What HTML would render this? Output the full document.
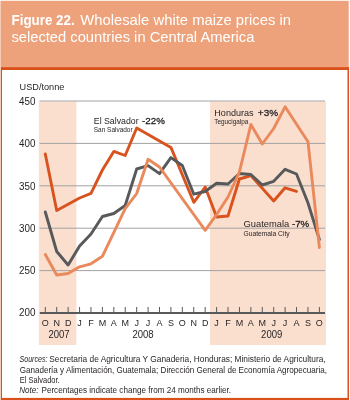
<!DOCTYPE html>
<html><head><meta charset="utf-8"><style>
html,body{margin:0;padding:0;background:#fff;width:350px;height:400px;overflow:hidden}
svg{display:block;will-change:transform}
text{font-family:"Liberation Sans",sans-serif}
</style></head><body>
<svg width="350" height="400" viewBox="0 0 350 400">
<rect x="0" y="0" width="350" height="400" fill="#ffffff"/>
<rect x="0" y="0.8" width="1" height="399.2" fill="#f5ccb5"/>
<rect x="1" y="0.8" width="347.7" height="66.2" fill="#eda27b"/>
<rect x="1" y="67" width="347.7" height="1" fill="#df5f2c"/>
<rect x="1" y="68" width="347.7" height="2" fill="#d9501a"/>
<rect x="1" y="67" width="1" height="333" fill="#d9501a"/>
<rect x="347.5" y="67" width="1.5" height="333" fill="#d9501a"/>
<rect x="1" y="397.9" width="348" height="2.1" fill="#d9501a"/>
<rect x="38.8" y="101.5" width="37.6" height="243.5" fill="#fadfcf"/>
<rect x="210" y="101.5" width="116" height="243.5" fill="#fadfcf"/>
<line x1="39.6" y1="101.00" x2="325" y2="101.00" stroke="#a2a2a2" stroke-width="1"/>
<line x1="39.6" y1="143.40" x2="325" y2="143.40" stroke="#a2a2a2" stroke-width="1"/>
<line x1="39.6" y1="185.80" x2="325" y2="185.80" stroke="#a2a2a2" stroke-width="1"/>
<line x1="39.6" y1="228.20" x2="325" y2="228.20" stroke="#a2a2a2" stroke-width="1"/>
<line x1="39.6" y1="270.60" x2="325" y2="270.60" stroke="#a2a2a2" stroke-width="1"/>
<line x1="39.8" y1="313" x2="325" y2="313" stroke="#58595b" stroke-width="1.8"/>
<line x1="45.30" y1="307" x2="45.30" y2="313" stroke="#58595b" stroke-width="1"/>
<line x1="56.72" y1="307" x2="56.72" y2="313" stroke="#58595b" stroke-width="1"/>
<line x1="68.14" y1="307" x2="68.14" y2="313" stroke="#58595b" stroke-width="1"/>
<line x1="79.56" y1="307" x2="79.56" y2="313" stroke="#58595b" stroke-width="1"/>
<line x1="90.98" y1="307" x2="90.98" y2="313" stroke="#58595b" stroke-width="1"/>
<line x1="102.40" y1="307" x2="102.40" y2="313" stroke="#58595b" stroke-width="1"/>
<line x1="113.82" y1="307" x2="113.82" y2="313" stroke="#58595b" stroke-width="1"/>
<line x1="125.24" y1="307" x2="125.24" y2="313" stroke="#58595b" stroke-width="1"/>
<line x1="136.66" y1="307" x2="136.66" y2="313" stroke="#58595b" stroke-width="1"/>
<line x1="148.08" y1="307" x2="148.08" y2="313" stroke="#58595b" stroke-width="1"/>
<line x1="159.50" y1="307" x2="159.50" y2="313" stroke="#58595b" stroke-width="1"/>
<line x1="170.92" y1="307" x2="170.92" y2="313" stroke="#58595b" stroke-width="1"/>
<line x1="182.34" y1="307" x2="182.34" y2="313" stroke="#58595b" stroke-width="1"/>
<line x1="193.76" y1="307" x2="193.76" y2="313" stroke="#58595b" stroke-width="1"/>
<line x1="205.18" y1="307" x2="205.18" y2="313" stroke="#58595b" stroke-width="1"/>
<line x1="216.60" y1="307" x2="216.60" y2="313" stroke="#58595b" stroke-width="1"/>
<line x1="228.02" y1="307" x2="228.02" y2="313" stroke="#58595b" stroke-width="1"/>
<line x1="239.44" y1="307" x2="239.44" y2="313" stroke="#58595b" stroke-width="1"/>
<line x1="250.86" y1="307" x2="250.86" y2="313" stroke="#58595b" stroke-width="1"/>
<line x1="262.28" y1="307" x2="262.28" y2="313" stroke="#58595b" stroke-width="1"/>
<line x1="273.70" y1="307" x2="273.70" y2="313" stroke="#58595b" stroke-width="1"/>
<line x1="285.12" y1="307" x2="285.12" y2="313" stroke="#58595b" stroke-width="1"/>
<line x1="296.54" y1="307" x2="296.54" y2="313" stroke="#58595b" stroke-width="1"/>
<line x1="307.96" y1="307" x2="307.96" y2="313" stroke="#58595b" stroke-width="1"/>
<line x1="319.38" y1="307" x2="319.38" y2="313" stroke="#58595b" stroke-width="1"/>
<polyline points="45.3,154.0 56.7,210.5 79.6,198.0 91.0,193.3 102.4,170.0 113.8,151.4 125.2,155.5 136.7,128.0 170.9,147.4 193.8,202.3 205.2,187.0 216.6,217.0 228.0,216.0 239.4,179.0 250.9,175.6 273.7,201.0 285.1,187.8 296.5,191.4" fill="none" stroke="#d9531f" stroke-width="2.9" stroke-linejoin="round" stroke-linecap="round"/>
<polyline points="45.3,212.0 56.7,251.5 68.1,265.0 79.6,246.0 91.0,234.0 102.4,216.5 113.8,213.5 125.2,205.5 136.7,169.0 148.1,165.6 159.5,173.6 170.9,157.6 182.3,165.5 193.8,194.2 205.2,191.5 216.6,183.3 228.0,184.0 239.4,173.5 250.9,174.5 262.3,185.0 273.7,181.3 285.1,169.3 296.5,174.0 308.0,203.0 319.4,239.5" fill="none" stroke="#58595b" stroke-width="2.9" stroke-linejoin="round" stroke-linecap="round"/>
<polyline points="45.3,254.5 56.7,275.0 68.1,273.5 79.6,266.8 91.0,263.8 102.4,256.3 125.2,208.7 136.7,193.5 148.1,159.3 159.5,167.0 205.2,230.3 216.6,214.5 228.0,197.0 239.4,172.0 250.9,124.5 262.3,144.0 273.7,128.5 285.1,106.8 308.0,141.8 319.4,247.5" fill="none" stroke="#ea8a5c" stroke-width="2.9" stroke-linejoin="round" stroke-linecap="round"/>
<text x="11.6" y="25" font-size="13.9" font-weight="bold" font-style="normal" text-anchor="start" fill="#ffffff" textLength="63.0" lengthAdjust="spacingAndGlyphs">Figure 22.</text>
<text x="80.2" y="25" font-size="14.5" font-weight="normal" font-style="normal" text-anchor="start" fill="#ffffff" textLength="210.8" lengthAdjust="spacingAndGlyphs">Wholesale white maize prices in</text>
<text x="11.4" y="42" font-size="14.5" font-weight="normal" font-style="normal" text-anchor="start" fill="#ffffff" textLength="243" lengthAdjust="spacingAndGlyphs">selected countries in Central America</text>
<text x="19.6" y="90" font-size="9.8" font-weight="normal" font-style="normal" text-anchor="start" fill="#231f20" textLength="44.8" lengthAdjust="spacingAndGlyphs">USD/tonne</text>
<text x="35.4" y="105" font-size="10" font-weight="normal" font-style="normal" text-anchor="end" fill="#231f20" textLength="16.4" lengthAdjust="spacingAndGlyphs">450</text>
<text x="35.4" y="147.4" font-size="10" font-weight="normal" font-style="normal" text-anchor="end" fill="#231f20" textLength="16.4" lengthAdjust="spacingAndGlyphs">400</text>
<text x="35.4" y="189.6" font-size="10" font-weight="normal" font-style="normal" text-anchor="end" fill="#231f20" textLength="16.4" lengthAdjust="spacingAndGlyphs">350</text>
<text x="35.4" y="232" font-size="10" font-weight="normal" font-style="normal" text-anchor="end" fill="#231f20" textLength="16.4" lengthAdjust="spacingAndGlyphs">300</text>
<text x="35.4" y="274.2" font-size="10" font-weight="normal" font-style="normal" text-anchor="end" fill="#231f20" textLength="16.4" lengthAdjust="spacingAndGlyphs">250</text>
<text x="35.4" y="316.4" font-size="10" font-weight="normal" font-style="normal" text-anchor="end" fill="#231f20" textLength="16.4" lengthAdjust="spacingAndGlyphs">200</text>
<text x="45.30" y="326" font-size="9" font-weight="normal" font-style="normal" text-anchor="middle" fill="#231f20">O</text>
<text x="56.72" y="326" font-size="9" font-weight="normal" font-style="normal" text-anchor="middle" fill="#231f20">N</text>
<text x="68.14" y="326" font-size="9" font-weight="normal" font-style="normal" text-anchor="middle" fill="#231f20">D</text>
<text x="79.56" y="326" font-size="9" font-weight="normal" font-style="normal" text-anchor="middle" fill="#231f20">J</text>
<text x="90.98" y="326" font-size="9" font-weight="normal" font-style="normal" text-anchor="middle" fill="#231f20">F</text>
<text x="102.40" y="326" font-size="9" font-weight="normal" font-style="normal" text-anchor="middle" fill="#231f20">M</text>
<text x="113.82" y="326" font-size="9" font-weight="normal" font-style="normal" text-anchor="middle" fill="#231f20">A</text>
<text x="125.24" y="326" font-size="9" font-weight="normal" font-style="normal" text-anchor="middle" fill="#231f20">M</text>
<text x="136.66" y="326" font-size="9" font-weight="normal" font-style="normal" text-anchor="middle" fill="#231f20">J</text>
<text x="148.08" y="326" font-size="9" font-weight="normal" font-style="normal" text-anchor="middle" fill="#231f20">J</text>
<text x="159.50" y="326" font-size="9" font-weight="normal" font-style="normal" text-anchor="middle" fill="#231f20">A</text>
<text x="170.92" y="326" font-size="9" font-weight="normal" font-style="normal" text-anchor="middle" fill="#231f20">S</text>
<text x="182.34" y="326" font-size="9" font-weight="normal" font-style="normal" text-anchor="middle" fill="#231f20">O</text>
<text x="193.76" y="326" font-size="9" font-weight="normal" font-style="normal" text-anchor="middle" fill="#231f20">N</text>
<text x="205.18" y="326" font-size="9" font-weight="normal" font-style="normal" text-anchor="middle" fill="#231f20">D</text>
<text x="216.60" y="326" font-size="9" font-weight="normal" font-style="normal" text-anchor="middle" fill="#231f20">J</text>
<text x="228.02" y="326" font-size="9" font-weight="normal" font-style="normal" text-anchor="middle" fill="#231f20">F</text>
<text x="239.44" y="326" font-size="9" font-weight="normal" font-style="normal" text-anchor="middle" fill="#231f20">M</text>
<text x="250.86" y="326" font-size="9" font-weight="normal" font-style="normal" text-anchor="middle" fill="#231f20">A</text>
<text x="262.28" y="326" font-size="9" font-weight="normal" font-style="normal" text-anchor="middle" fill="#231f20">M</text>
<text x="273.70" y="326" font-size="9" font-weight="normal" font-style="normal" text-anchor="middle" fill="#231f20">J</text>
<text x="285.12" y="326" font-size="9" font-weight="normal" font-style="normal" text-anchor="middle" fill="#231f20">J</text>
<text x="296.54" y="326" font-size="9" font-weight="normal" font-style="normal" text-anchor="middle" fill="#231f20">A</text>
<text x="307.96" y="326" font-size="9" font-weight="normal" font-style="normal" text-anchor="middle" fill="#231f20">S</text>
<text x="319.38" y="326" font-size="9" font-weight="normal" font-style="normal" text-anchor="middle" fill="#231f20">O</text>
<text x="59" y="338" font-size="10" font-weight="normal" font-style="normal" text-anchor="middle" fill="#231f20" textLength="21.2" lengthAdjust="spacingAndGlyphs">2007</text>
<text x="143" y="338" font-size="10" font-weight="normal" font-style="normal" text-anchor="middle" fill="#231f20" textLength="21.2" lengthAdjust="spacingAndGlyphs">2008</text>
<text x="271.7" y="338" font-size="10" font-weight="normal" font-style="normal" text-anchor="middle" fill="#231f20" textLength="21.2" lengthAdjust="spacingAndGlyphs">2009</text>
<text x="93.8" y="123.6" font-size="9.3" font-weight="normal" font-style="normal" text-anchor="start" fill="#231f20" textLength="44.8" lengthAdjust="spacingAndGlyphs">El Salvador</text>
<text x="142" y="123.6" font-size="9.8" fill="#231f20" stroke="#231f20" stroke-width="0.3" textLength="22.9" lengthAdjust="spacingAndGlyphs">-22%</text>
<text x="93.8" y="131.8" font-size="6.8" font-weight="normal" font-style="normal" text-anchor="start" fill="#231f20" textLength="38.8" lengthAdjust="spacingAndGlyphs">San Salvador</text>
<text x="214.3" y="115.8" font-size="9.8" font-weight="normal" font-style="normal" text-anchor="start" fill="#231f20" textLength="39.3" lengthAdjust="spacingAndGlyphs">Honduras</text>
<text x="257.8" y="115.8" font-size="9.8" fill="#231f20" stroke="#231f20" stroke-width="0.3" textLength="20.3" lengthAdjust="spacingAndGlyphs">+3%</text>
<text x="214.3" y="124.2" font-size="6.8" font-weight="normal" font-style="normal" text-anchor="start" fill="#231f20" textLength="34.0" lengthAdjust="spacingAndGlyphs">Tegucigalpa</text>
<text x="243.5" y="226.9" font-size="9.8" font-weight="normal" font-style="normal" text-anchor="start" fill="#231f20" textLength="45.8" lengthAdjust="spacingAndGlyphs">Guatemala</text>
<text x="291.9" y="226.9" font-size="9.8" fill="#231f20" stroke="#231f20" stroke-width="0.3" textLength="17.4" lengthAdjust="spacingAndGlyphs">-7%</text>
<text x="243.5" y="235.7" font-size="6.8" font-weight="normal" font-style="normal" text-anchor="start" fill="#231f20" textLength="46.1" lengthAdjust="spacingAndGlyphs">Guatemala City</text>
<text x="19.5" y="362.2" font-size="8.4" font-weight="normal" font-style="italic" text-anchor="start" fill="#231f20" textLength="28" lengthAdjust="spacingAndGlyphs">Sources:</text>
<text x="49.3" y="362.2" font-size="8.4" font-weight="normal" font-style="normal" text-anchor="start" fill="#231f20" textLength="276.4" lengthAdjust="spacingAndGlyphs">Secretaria de Agricultura Y Ganaderia, Honduras; Ministerio de Agricultura,</text>
<text x="19.7" y="372.6" font-size="8.4" font-weight="normal" font-style="normal" text-anchor="start" fill="#231f20" textLength="307.3" lengthAdjust="spacingAndGlyphs">Ganadería y Alimentación, Guatemala; Dirección General de Economía Agropecuaria,</text>
<text x="19.7" y="382.9" font-size="8.4" font-weight="normal" font-style="normal" text-anchor="start" fill="#231f20" textLength="40" lengthAdjust="spacingAndGlyphs">El Salvador.</text>
<text x="19.2" y="392.8" font-size="8.4" font-weight="normal" font-style="italic" text-anchor="start" fill="#231f20" textLength="19.3" lengthAdjust="spacingAndGlyphs">Note:</text>
<text x="41.5" y="392.8" font-size="8.4" font-weight="normal" font-style="normal" text-anchor="start" fill="#231f20" textLength="189.5" lengthAdjust="spacingAndGlyphs">Percentages indicate change from 24 months earlier.</text>
</svg>
</body></html>
